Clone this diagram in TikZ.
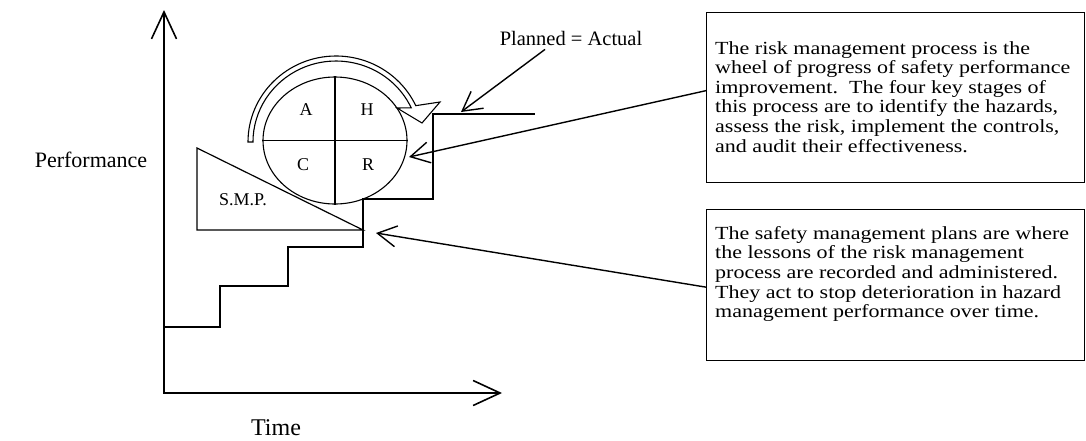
\documentclass[tikz,border=0pt]{standalone}
\usepackage{fontspec}
\setmainfont{Liberation Serif}
\newfontfamily\notefont[FakeStretch=1.19]{Liberation Serif}
\usetikzlibrary{arrows.meta,calc,shapes.geometric}
\begin{document}
\begin{tikzpicture}[x=1pt,y=-1pt,
  axisline/.style={line width=1.6pt,{Straight Barb[length=27pt,width=25pt]}-{Straight Barb[length=27pt,width=25pt]}},
  stair/.style={line width=1.4pt},
  thinline/.style={line width=1.2pt},
  pointer/.style={line width=1.4pt,-{Straight Barb[length=19pt,width=21pt]}},
  lbl/.style={font=\fontsize{22pt}{24pt}\selectfont, inner sep=0pt},
  letter/.style={font=\fontsize{18pt}{20pt}\selectfont, inner sep=0pt},
  notebox/.style={draw, line width=1.3pt, anchor=north west, inner sep=0pt, minimum width=378pt},
  notetext/.style={anchor=north west, inner sep=0pt, align=left, font=\notefont\fontsize{18.5pt}{19.6pt}\selectfont}
]
\useasboundingbox (0,0) rectangle (1086,440);

% axes
\coordinate (ytip) at (164,10);
\coordinate (orig) at (164,393);
\coordinate (xtip) at (502,393);
\draw[axisline] (ytip) -- (orig) -- (xtip);
\node[lbl] (perf) at (91,160) {Performance};
\node[lbl, font=\fontsize{24pt}{26pt}\selectfont] (time) at (276,428) {Time};

% staircase
\draw[stair] (164,327) -| (220,286) -| (288,247) -| (363,199) -| (433,114) -- (535,114);

% S.M.P. triangle
\draw[thinline] (197,148) -- (197,230) -- (363,230) -- cycle;
\node[letter] (smp) at (243,200) {S.M.P.};
\coordinate (smpcorner) at (376,233);

% circular arrow (band)
\draw[line width=1.1pt, fill=white]
  (248,142) arc[start angle=180, end angle=335, x radius=88, y radius=86]
  -- (440,102) -- (422,123) -- (397,108)
  -- (411.2,107.8) arc[start angle=335, end angle=180, x radius=83, y radius=81]
  -- cycle;

% wheel
\node[draw, ellipse, line width=1.1pt, minimum width=144pt, minimum height=127pt, inner sep=0pt] (wheel) at (335,140.5) {};
\draw[thinline] (wheel.north) -- (wheel.south);
\draw[thinline] (wheel.west) -- (wheel.east);
\node[letter] (la) at (306,110) {A};
\node[letter] (lh) at (367,110) {H};
\node[letter] (lc) at (303,165) {C};
\node[letter] (lr) at (368,165) {R};
\coordinate (rtip) at (409,157);

% planned = actual
\node[lbl, font=\fontsize{20.5pt}{22pt}\selectfont] (pa) at (571,38) {Planned = Actual};
\coordinate (patip) at (461,112);
\draw[pointer] ([xshift=-26pt,yshift=-4pt]pa.south) -- (patip);

% text boxes
\node[notebox, minimum height=170pt] (box1) at (706,12) {};
\node[notetext] (text1) at ([xshift=9pt,yshift=-29pt]box1.north west) {%
The risk management process is the\\
wheel of progress of safety performance\\
improvement.\ \ The four key stages of\\
this process are to identify the hazards,\\
assess the risk, implement the controls,\\
and audit their effectiveness.};
\node[notebox, minimum height=151pt] (box2) at (706,209) {};
\node[notetext] (text2) at ([xshift=9pt,yshift=-17pt]box2.north west) {%
The safety management plans are where\\
the lessons of the risk management\\
process are recorded and administered.\\
They act to stop deterioration in hazard\\
management performance over time.};

\draw[pointer] ([yshift=7pt]box1.west) -- (rtip);
\draw[pointer] ([yshift=-2pt]box2.west) -- (smpcorner);
\end{tikzpicture}
\end{document}
